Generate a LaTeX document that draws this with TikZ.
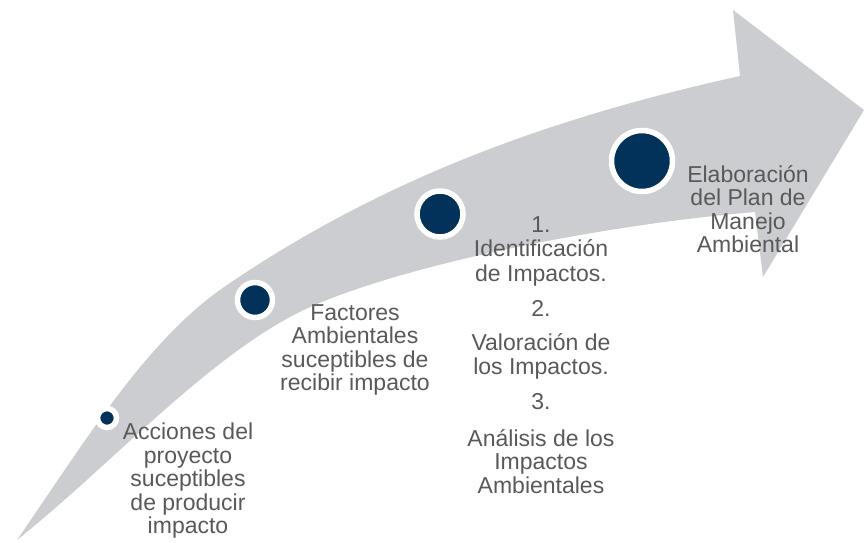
\documentclass[tikz,border=0pt]{standalone}
\usepackage{fontspec}
\setmainfont{Liberation Sans}
\usetikzlibrary{positioning}
\definecolor{bandgray}{RGB}{204,205,209}
\definecolor{dotblue}{RGB}{2,50,89}
\definecolor{txtgray}{RGB}{89,89,89}

\begin{document}
\begin{tikzpicture}[x=1pt, y=-1pt, dot/.style = {circle, draw=white, line width=5.5pt, fill=dotblue, inner sep=0pt}, lbl/.style = {align=center, text=txtgray, inner sep=0pt, font=\fontsize{23}{23.5}\selectfont}]
\useasboundingbox (0,0) rectangle (864,542);

% curved arrow
\fill[bandgray] (17,540) .. controls (87,438.5) and (147,339) .. (227,285)
  .. controls (377,183) and (540,120) .. (740,76)
  -- (733,10) -- (864,110) -- (763,277) -- (755,212)
  .. controls (605,224.6) and (417,262) .. (317,304)
  .. controls (217,346) and (117,460) .. (17,540) -- cycle;

\node[dot, minimum size=19pt] (c1) at (107,418) {};
\node[dot, minimum size=35pt] (c2) at (255,300) {};
\node[dot, minimum size=46pt] (c3) at (440,214) {};
\node[dot, minimum size=61pt] (c4) at (642,161) {};

\node[lbl] (t1) at (188,481) {Acciones del\\proyecto\\suceptibles\\de producir\\impacto};
\node[lbl] (t2) at (355,350) {Factores\\Ambientales\\suceptibles de\\recibir impacto};
\node[lbl] (t3) at (541,355) {1.\\Identificación\\[2pt]de Impactos.\\[11.5pt]2.\\[10.5pt]Valoración de\\los Impactos.\\[11.5pt]3.\\[13.5pt]Análisis de los\\Impactos\\Ambientales};
\node[lbl] (t4) at (748,209) {Elaboración\\del Plan de\\Manejo\\Ambiental};
\end{tikzpicture}
\end{document}
